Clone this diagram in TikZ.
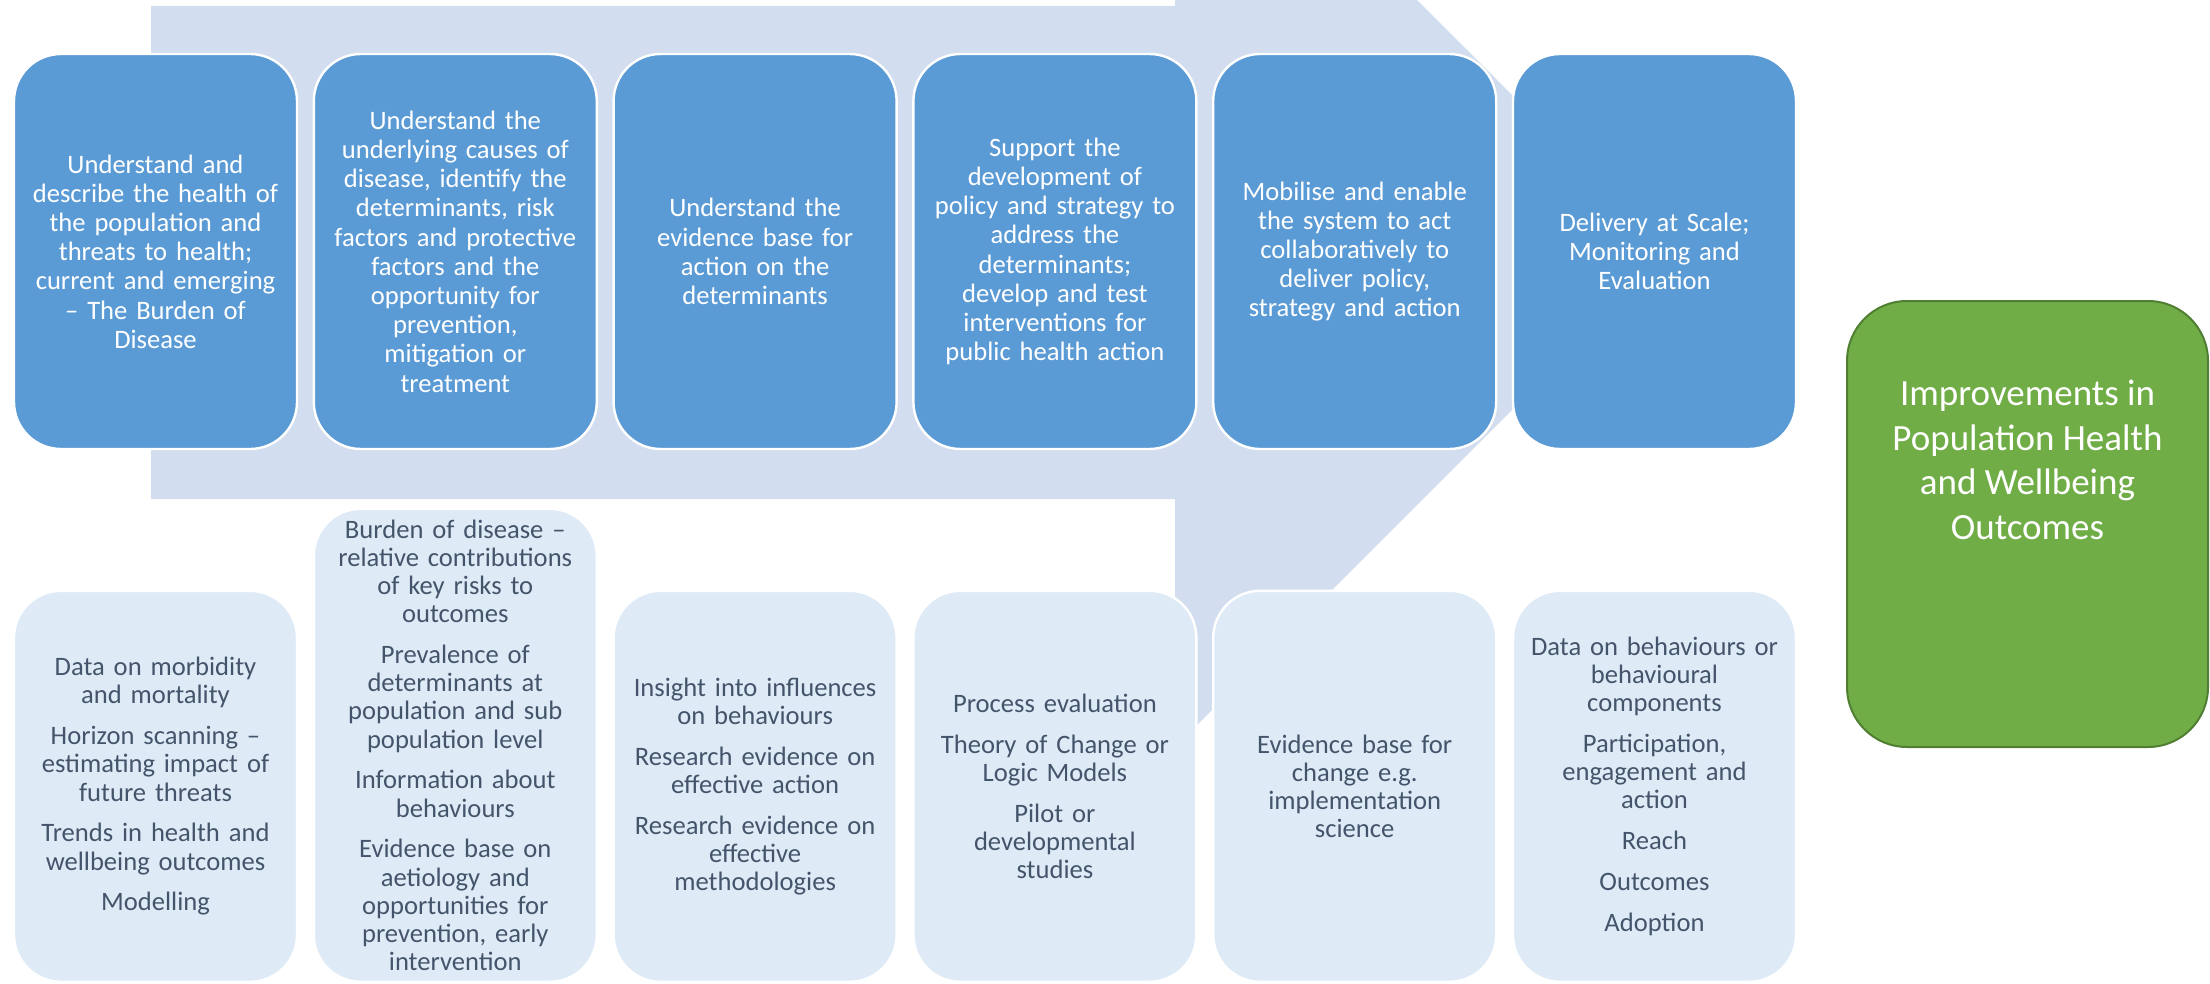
\documentclass[tikz,border=0pt]{standalone}
\usepackage{fontspec}
\setmainfont{Carlito}
\usetikzlibrary{positioning}

\definecolor{arrowbg}{HTML}{D2DEEF}
\definecolor{stageblue}{HTML}{5B9BD5}
\definecolor{evidencebg}{HTML}{DEEBF7}
\definecolor{evidencetext}{HTML}{44546A}
\definecolor{outcomegreen}{HTML}{70AD47}
\definecolor{outcomeline}{HTML}{507E32}

\begin{document}
\begin{tikzpicture}
[x=0.5pt, y=-0.5pt,
 node distance=7.2pt,
 box/.style={shape=rectangle, rounded corners=23.5pt, draw=white, line width=1.2pt,
   align=center, text width=132pt, minimum width=141.5pt},
 stage/.style={box, fill=stageblue, text=white, minimum height=197.5pt,
   font=\fontsize{13.3}{14.6}\selectfont},
 evidence/.style={box, fill=evidencebg, text=evidencetext, minimum height=195.5pt,
   font=\fontsize{13.3}{14.1}\selectfont},
 outcome/.style={shape=rectangle, rounded corners=30pt, draw=outcomeline, line width=1pt,
   fill=outcomegreen, minimum width=180.5pt, minimum height=223pt},
 outcometext/.style={align=center, text=white, font=\fontsize{18.5}{22.3}\selectfont}]
\useasboundingbox (0,0) rectangle (2210,984);
% big background arrow
\begin{scope}
\clip (0,0) rectangle (2210,984);
\fill[arrowbg] (151,6) -- (1175,6) -- (1175,-242) -- (1669.5,252.5)
  -- (1175,747) -- (1175,499) -- (151,499) -- cycle;
\end{scope}
% stages
\node[stage] (s1) at (155.5,251.5) {Understand and\\describe the health of\\the population and\\threats to health;\\current and emerging\\– The Burden of\\Disease};
\node[stage, right=of s1] (s2) {Understand the\\underlying causes of\\disease, identify the\\determinants, risk\\factors and protective\\factors and the\\opportunity for\\prevention,\\mitigation or\\treatment};
\node[stage, right=of s2] (s3) {Understand the\\evidence base for\\action on the\\determinants};
\node[stage, right=of s3] (s4) {Support the\\development of\\policy and strategy to\\address the\\determinants;\\develop and test\\interventions for\\public health action};
\node[stage, right=of s4] (s5) {Mobilise and enable\\the system to act\\collaboratively to\\deliver policy,\\strategy and action};
\node[stage, right=of s5] (s6) {Delivery at Scale;\\Monitoring and\\Evaluation};
% evidence
\coordinate (base) at (0,983);
\node[evidence, anchor=south] (e1) at (s1 |- base) {Data on morbidity\\and mortality\\[6.3pt]Horizon scanning –\\estimating impact of\\future threats\\[6.3pt]Trends in health and\\wellbeing outcomes\\[6.3pt]Modelling};
\node[evidence, anchor=south, minimum height=236.5pt] (e2) at (s2 |- base) {Burden of disease –\\relative contributions\\of key risks to\\outcomes\\[6.3pt]Prevalence of\\determinants at\\population and sub\\population level\\[6.3pt]Information about\\behaviours\\[6.3pt]Evidence base on\\aetiology and\\opportunities for\\prevention, early\\intervention};
\node[evidence, anchor=south] (e3) at (s3 |- base) {Insight into influences\\on behaviours\\[6.3pt]Research evidence on\\effective action\\[6.3pt]Research evidence on\\effective\\methodologies};
\node[evidence, anchor=south] (e4) at (s4 |- base) {Process evaluation\\[6.3pt]Theory of Change or\\Logic Models\\[6.3pt]Pilot or\\developmental\\studies};
\node[evidence, anchor=south] (e5) at (s5 |- base) {Evidence base for\\change e.g.\\implementation\\science};
\node[evidence, anchor=south] (e6) at (s6 |- base) {Data on behaviours or\\behavioural\\components\\[6.3pt]Participation,\\engagement and\\action\\[6.3pt]Reach\\[6.3pt]Outcomes\\[6.3pt]Adoption};
% outcome
\node[outcome] (out) at (2027.5,524) {};
\node[outcometext] (outlabel) at ([yshift=32pt]out.center) {Improvements in\\Population Health\\and Wellbeing\\Outcomes};
\end{tikzpicture}
\end{document}
